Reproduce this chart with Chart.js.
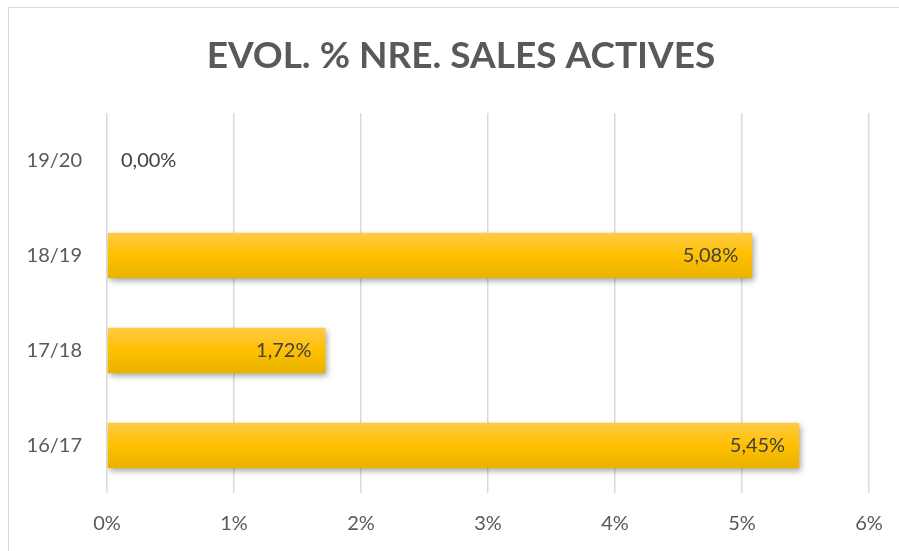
<!DOCTYPE html>
<html>
<head>
<meta charset="utf-8">
<script src="https://cdn.jsdelivr.net/npm/chart.js@4/dist/chart.umd.min.js"></script>
<style>
  html, body { margin: 0; padding: 0; background: #fff; }
  #wrap { position: relative; width: 899px; height: 551px; }
  #frame { position: absolute; left: 8px; top: 7px; width: 900px; height: 560px; border: 1px solid #d9d9d9; box-sizing: border-box; pointer-events: none; }
</style>
</head>
<body>
<div id="wrap">
  <canvas id="c" width="899" height="551"></canvas>
  <div id="frame"></div>
</div>
<script>
const titleText = 'EVOL. % NRE. SALES ACTIVES';
const categories = ['19/20', '18/19', '17/18', '16/17'];
const values = [0.00, 5.08, 1.72, 5.45];
const valueLabels = ['0,00%', '5,08%', '1,72%', '5,45%'];
const xTicks = [0, 1, 2, 3, 4, 5, 6];

const FONT = 'Lato, "Open Sans", sans-serif';

const ctx0 = document.getElementById('c').getContext('2d');

const decor = {
  id: 'decor',
  afterDraw(chart) {
    const ctx = chart.ctx;
    ctx.save();
    ctx.font = 'bold 37px ' + FONT;
    ctx.fillStyle = '#595959';
    ctx.textAlign = 'center';
    ctx.textBaseline = 'middle';
    ctx.fillText(titleText, 461, 56);
    ctx.restore();
  },
  beforeDatasetsDraw(chart) {
    const ctx = chart.ctx;
    const meta = chart.getDatasetMeta(0);
    meta.data.forEach((bar) => {
      const h = bar.height;
      const g = ctx.createLinearGradient(0, bar.y - h / 2, 0, bar.y + h / 2);
      g.addColorStop(0, '#FFCA45');
      g.addColorStop(0.5, '#FFC000');
      g.addColorStop(1, '#E8B200');
      bar.options = Object.assign({}, bar.options, { backgroundColor: g });
    });
    ctx.save();
    ctx.shadowColor = 'rgba(0,0,0,0.35)';
    ctx.shadowBlur = 6;
    ctx.shadowOffsetX = 2;
    ctx.shadowOffsetY = 3;
  },
  afterDatasetsDraw(chart) {
    chart.ctx.restore();
    const ctx = chart.ctx;
    const meta = chart.getDatasetMeta(0);
    ctx.save();
    ctx.font = '20px ' + FONT;
    ctx.fillStyle = '#404040';
    ctx.textBaseline = 'middle';
    meta.data.forEach((bar, i) => {
      const label = valueLabels[i];
      if (values[i] === 0) {
        ctx.textAlign = 'left';
        ctx.fillText(label, bar.x + 14, bar.y);
      } else {
        ctx.textAlign = 'right';
        ctx.fillText(label, bar.x - 14, bar.y);
      }
    });
    ctx.restore();
  }
};

new Chart(ctx0, {
  type: 'bar',
  data: {
    labels: categories,
    datasets: [{
      data: values,
      backgroundColor: () => '#FFC000',
      borderWidth: 0,
      barPercentage: 0.8,
      categoryPercentage: 0.6
    }]
  },
  options: {
    indexAxis: 'y',
    responsive: false,
    animation: false,
    events: [],
    layout: { padding: { top: 113, left: 0, right: 30, bottom: 0 } },
    plugins: {
      legend: { display: false },
      tooltip: { enabled: false },
      title: { display: false }
    },
    scales: {
      x: {
        min: 0,
        max: 6,
        afterBuildTicks(scale) { scale.ticks = xTicks.map(v => ({ value: v })); },
        afterFit(scale) { scale.height = 58; scale.paddingLeft = 0; scale.paddingRight = 0; },
        grid: { color: '#d9d9d9', lineWidth: 1.5, drawTicks: false },
        border: { display: false },
        ticks: {
          color: '#595959',
          font: { family: FONT, size: 20 },
          padding: 19,
          callback: (v) => v + '%'
        }
      },
      y: {
        afterFit(scale) { scale.width = 107; },
        grid: { display: false },
        border: { display: false },
        ticks: {
          color: '#595959',
          font: { family: FONT, size: 20 },
          padding: 17
        }
      }
    }
  },
  plugins: [decor]
});
</script>
</body>
</html>
